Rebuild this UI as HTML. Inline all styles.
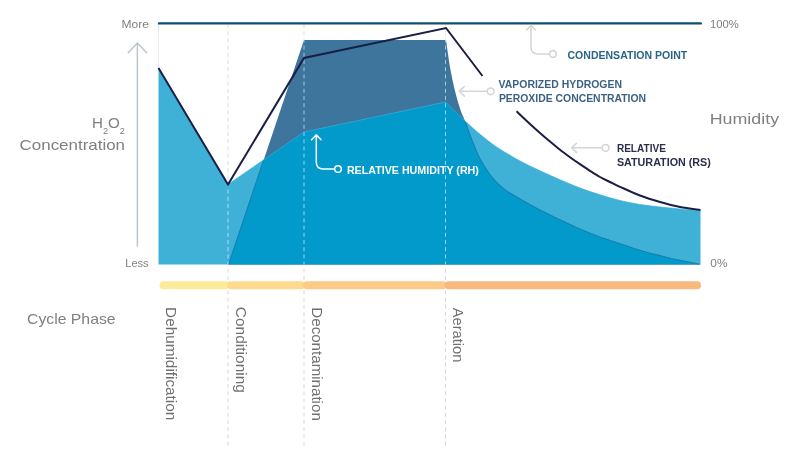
<!DOCTYPE html>
<html lang="en"><head><meta charset="utf-8"><title>VHP Cycle Phase Chart</title>
<style>
html,body{margin:0;padding:0;background:#fff;}
body{width:800px;height:450px;overflow:hidden;}
svg{display:block;font-family:"Liberation Sans", Arial, sans-serif;}
</style></head><body>
<svg width="800" height="450" viewBox="0 0 800 450">
<rect width="800" height="450" fill="#fff"/>
<defs><clipPath id="rhclip"><path d="M158.5 68 L228 184.5 L304 132 L445.5 102 C447.08 103.55 451.75 108.13 455.00 111.30 C458.25 114.47 460.83 117.17 465.00 121.00 C469.17 124.83 475.00 130.13 480.00 134.30 C485.00 138.47 490.00 142.50 495.00 146.00 C500.00 149.50 505.83 152.80 510.00 155.30 C514.17 157.80 515.00 158.42 520.00 161.00 C525.00 163.58 533.33 167.67 540.00 170.80 C546.67 173.93 553.33 176.93 560.00 179.80 C566.67 182.67 573.33 185.50 580.00 188.00 C586.67 190.50 593.33 192.72 600.00 194.80 C606.67 196.88 613.33 198.88 620.00 200.50 C626.67 202.12 633.33 203.42 640.00 204.50 C646.67 205.58 653.33 206.25 660.00 207.00 C666.67 207.75 673.25 208.40 680.00 209.00 C686.75 209.60 697.08 210.33 700.50 210.60 L700.5 264.6 L158.5 264.6 Z"/></clipPath></defs>

<line x1="228" y1="24" x2="228" y2="447" stroke="#d5dae0" stroke-width="1" stroke-dasharray="4 3.2"/>
<line x1="304" y1="24" x2="304" y2="447" stroke="#d5dae0" stroke-width="1" stroke-dasharray="4 3.2"/>
<line x1="445.5" y1="24" x2="445.5" y2="447" stroke="#d5dae0" stroke-width="1" stroke-dasharray="4 3.2"/>
<line x1="158.5" y1="24" x2="158.5" y2="68" stroke="#e9edf1" stroke-width="1"/>
<path d="M158.5 68 L228 184.5 L304 132 L445.5 102 C447.08 103.55 451.75 108.13 455.00 111.30 C458.25 114.47 460.83 117.17 465.00 121.00 C469.17 124.83 475.00 130.13 480.00 134.30 C485.00 138.47 490.00 142.50 495.00 146.00 C500.00 149.50 505.83 152.80 510.00 155.30 C514.17 157.80 515.00 158.42 520.00 161.00 C525.00 163.58 533.33 167.67 540.00 170.80 C546.67 173.93 553.33 176.93 560.00 179.80 C566.67 182.67 573.33 185.50 580.00 188.00 C586.67 190.50 593.33 192.72 600.00 194.80 C606.67 196.88 613.33 198.88 620.00 200.50 C626.67 202.12 633.33 203.42 640.00 204.50 C646.67 205.58 653.33 206.25 660.00 207.00 C666.67 207.75 673.25 208.40 680.00 209.00 C686.75 209.60 697.08 210.33 700.50 210.60 L700.5 264.6 L158.5 264.6 Z" fill="#3fb1d7"/>
<path d="M228.5 264.6 L304 40 L446 40 C446.38 42.67 447.55 51.00 448.30 56.00 C449.05 61.00 449.38 64.17 450.50 70.00 C451.62 75.83 453.33 84.33 455.00 91.00 C456.67 97.67 458.83 105.00 460.50 110.00 C462.17 115.00 463.42 116.83 465.00 121.00 C466.58 125.17 468.17 130.17 470.00 135.00 C471.83 139.83 474.33 146.05 476.00 150.00 C477.67 153.95 478.33 155.58 480.00 158.70 C481.67 161.82 483.78 165.37 486.00 168.70 C488.22 172.03 490.97 175.88 493.30 178.70 C495.63 181.52 497.77 183.57 500.00 185.60 C502.23 187.63 503.37 188.67 506.70 190.90 C510.03 193.13 514.45 195.82 520.00 199.00 C525.55 202.18 533.33 206.55 540.00 210.00 C546.67 213.45 553.33 216.53 560.00 219.70 C566.67 222.87 573.33 226.12 580.00 229.00 C586.67 231.88 592.92 234.43 600.00 237.00 C607.08 239.57 616.67 242.45 622.50 244.40 C628.33 246.35 630.83 247.35 635.00 248.70 C639.17 250.05 643.33 251.35 647.50 252.50 C651.67 253.65 655.83 254.57 660.00 255.60 C664.17 256.63 668.33 257.75 672.50 258.70 C676.67 259.65 680.33 260.33 685.00 261.30 C689.67 262.27 697.92 263.97 700.50 264.50 Z" fill="#3d759d"/>
<g clip-path="url(#rhclip)"><path d="M228.5 264.6 L304 40 L446 40 C446.38 42.67 447.55 51.00 448.30 56.00 C449.05 61.00 449.38 64.17 450.50 70.00 C451.62 75.83 453.33 84.33 455.00 91.00 C456.67 97.67 458.83 105.00 460.50 110.00 C462.17 115.00 463.42 116.83 465.00 121.00 C466.58 125.17 468.17 130.17 470.00 135.00 C471.83 139.83 474.33 146.05 476.00 150.00 C477.67 153.95 478.33 155.58 480.00 158.70 C481.67 161.82 483.78 165.37 486.00 168.70 C488.22 172.03 490.97 175.88 493.30 178.70 C495.63 181.52 497.77 183.57 500.00 185.60 C502.23 187.63 503.37 188.67 506.70 190.90 C510.03 193.13 514.45 195.82 520.00 199.00 C525.55 202.18 533.33 206.55 540.00 210.00 C546.67 213.45 553.33 216.53 560.00 219.70 C566.67 222.87 573.33 226.12 580.00 229.00 C586.67 231.88 592.92 234.43 600.00 237.00 C607.08 239.57 616.67 242.45 622.50 244.40 C628.33 246.35 630.83 247.35 635.00 248.70 C639.17 250.05 643.33 251.35 647.50 252.50 C651.67 253.65 655.83 254.57 660.00 255.60 C664.17 256.63 668.33 257.75 672.50 258.70 C676.67 259.65 680.33 260.33 685.00 261.30 C689.67 262.27 697.92 263.97 700.50 264.50 Z" fill="#019acb"/><path d="M228.5 264.6 L304 40 L446 40 C446.38 42.67 447.55 51.00 448.30 56.00 C449.05 61.00 449.38 64.17 450.50 70.00 C451.62 75.83 453.33 84.33 455.00 91.00 C456.67 97.67 458.83 105.00 460.50 110.00 C462.17 115.00 463.42 116.83 465.00 121.00 C466.58 125.17 468.17 130.17 470.00 135.00 C471.83 139.83 474.33 146.05 476.00 150.00 C477.67 153.95 478.33 155.58 480.00 158.70 C481.67 161.82 483.78 165.37 486.00 168.70 C488.22 172.03 490.97 175.88 493.30 178.70 C495.63 181.52 497.77 183.57 500.00 185.60 C502.23 187.63 503.37 188.67 506.70 190.90 C510.03 193.13 514.45 195.82 520.00 199.00 C525.55 202.18 533.33 206.55 540.00 210.00 C546.67 213.45 553.33 216.53 560.00 219.70 C566.67 222.87 573.33 226.12 580.00 229.00 C586.67 231.88 592.92 234.43 600.00 237.00 C607.08 239.57 616.67 242.45 622.50 244.40 C628.33 246.35 630.83 247.35 635.00 248.70 C639.17 250.05 643.33 251.35 647.50 252.50 C651.67 253.65 655.83 254.57 660.00 255.60 C664.17 256.63 668.33 257.75 672.50 258.70 C676.67 259.65 680.33 260.33 685.00 261.30 C689.67 262.27 697.92 263.97 700.50 264.50" fill="none" stroke="#1482b3" stroke-width="1.1"/></g>
<path d="M228 184.5 L304 132 L445.5 102 C447.08 103.55 451.75 108.13 455.00 111.30 C458.25 114.47 460.83 117.17 465.00 121.00 C469.17 124.83 475.00 130.13 480.00 134.30 C485.00 138.47 490.00 142.50 495.00 146.00 C500.00 149.50 505.83 152.80 510.00 155.30 C514.17 157.80 515.00 158.42 520.00 161.00 C525.00 163.58 533.33 167.67 540.00 170.80 C546.67 173.93 553.33 176.93 560.00 179.80 C566.67 182.67 573.33 185.50 580.00 188.00 C586.67 190.50 593.33 192.72 600.00 194.80 C606.67 196.88 613.33 198.88 620.00 200.50 C626.67 202.12 633.33 203.42 640.00 204.50 C646.67 205.58 653.33 206.25 660.00 207.00 C666.67 207.75 673.25 208.40 680.00 209.00 C686.75 209.60 697.08 210.33 700.50 210.60" fill="none" stroke="#36b0dc" stroke-width="0.8" opacity="0.9"/>
<g>
<line x1="228" y1="24" x2="228" y2="264.6" stroke="#e6f8ff" stroke-opacity="0.62" stroke-width="1" stroke-dasharray="4 3.2"/>
<line x1="304" y1="24" x2="304" y2="264.6" stroke="#e6f8ff" stroke-opacity="0.62" stroke-width="1" stroke-dasharray="4 3.2"/>
<line x1="445.5" y1="24" x2="445.5" y2="264.6" stroke="#e6f8ff" stroke-opacity="0.62" stroke-width="1" stroke-dasharray="4 3.2"/>
</g>
<line x1="159" y1="23.4" x2="700.8" y2="23.4" stroke="#0f4f6e" stroke-width="2.4" stroke-linecap="round"/>
<path d="M158.5 68 L228 184.5 L304 58 L446 28 L482.5 76" fill="none" stroke="#1b1e45" stroke-width="2" stroke-linejoin="miter" stroke-linecap="butt"/>
<path d="M516.5 111.3 C518.75 113.42 526.08 120.38 530.00 124.00 C533.92 127.62 536.67 130.07 540.00 133.00 C543.33 135.93 546.67 138.80 550.00 141.60 C553.33 144.40 556.67 147.20 560.00 149.80 C563.33 152.40 566.67 154.80 570.00 157.20 C573.33 159.60 576.67 161.93 580.00 164.20 C583.33 166.47 586.67 168.67 590.00 170.80 C593.33 172.93 596.67 175.13 600.00 177.00 C603.33 178.87 606.67 180.37 610.00 182.00 C613.33 183.63 615.00 184.55 620.00 186.80 C625.00 189.05 633.33 192.97 640.00 195.50 C646.67 198.03 653.33 200.08 660.00 202.00 C666.67 203.92 673.25 205.67 680.00 207.00 C686.75 208.33 697.08 209.50 700.50 210.00" fill="none" stroke="#1b1e45" stroke-width="2"/>
<path d="M137.4 246 V43.2 M128.2 52.7 L137.4 43 L146.6 52.7" fill="none" stroke="#b9c5d0" stroke-width="1.5" stroke-linecap="round" stroke-linejoin="miter"/>
<g fill="none" stroke="#d5d5d5" stroke-width="1.55" stroke-linecap="round" stroke-linejoin="round">
<path d="M531 25.5 V47 Q531 54 538 54 H549.3 M526.5 30 L531 25.2 L535.5 30"/><circle cx="553" cy="54" r="3.4" fill="#fff"/>
<path d="M459.5 91.3 H487 M464.3 86.5 L459.3 91.3 L464.3 96.1"/><circle cx="490.7" cy="91.3" r="3.4" fill="#fff"/>
<path d="M571.9 147.8 H601.9 M576.6 143.2 L571.7 147.8 L576.6 152.4"/><circle cx="605.6" cy="147.8" r="3.4" fill="#fff"/>
</g>
<g fill="none" stroke="#ffffff" stroke-width="1.5" stroke-linecap="round" stroke-linejoin="round">
<path d="M316.3 135 V162 Q316.3 169 323.3 169 H334.4 M311.6 139.8 L316.3 134.8 L321 139.8"/><circle cx="338" cy="169" r="3.3"/>
</g>
<text x="567.5" y="58.7" font-size="11.4" text-anchor="start" fill="#2a6588" font-weight="bold" textLength="119.7" lengthAdjust="spacingAndGlyphs">CONDENSATION POINT</text>
<text x="498.6" y="88.3" font-size="11.4" text-anchor="start" fill="#3a6285" font-weight="bold" textLength="123.4" lengthAdjust="spacingAndGlyphs">VAPORIZED HYDROGEN</text>
<text x="498.9" y="102.3" font-size="11.4" text-anchor="start" fill="#3a6285" font-weight="bold" textLength="147.2" lengthAdjust="spacingAndGlyphs">PEROXIDE CONCENTRATION</text>
<text x="616.9" y="152" font-size="11.4" text-anchor="start" fill="#2b2d4d" font-weight="bold" textLength="49" lengthAdjust="spacingAndGlyphs">RELATIVE</text>
<text x="616.9" y="166" font-size="11.4" text-anchor="start" fill="#2b2d4d" font-weight="bold" textLength="94" lengthAdjust="spacingAndGlyphs">SATURATION (RS)</text>
<text x="346.9" y="173.9" font-size="11.4" text-anchor="start" fill="#ffffff" font-weight="bold" textLength="132" lengthAdjust="spacingAndGlyphs">RELATIVE HUMIDITY (RH)</text>
<text x="121.5" y="28.4" font-size="10.8" text-anchor="start" fill="#808080" font-weight="normal" textLength="27.4" lengthAdjust="spacingAndGlyphs">More</text>
<text x="125.3" y="266.7" font-size="10.8" text-anchor="start" fill="#808080" font-weight="normal" textLength="23.3" lengthAdjust="spacingAndGlyphs">Less</text>
<text x="710" y="28.3" font-size="10.6" text-anchor="start" fill="#808080" font-weight="normal" textLength="28.8" lengthAdjust="spacingAndGlyphs">100%</text>
<text x="710.3" y="266.7" font-size="10.6" text-anchor="start" fill="#808080" font-weight="normal" textLength="17.2" lengthAdjust="spacingAndGlyphs">0%</text>
<text x="709.7" y="123.9" font-size="15" text-anchor="start" fill="#808080" font-weight="normal" textLength="69.4" lengthAdjust="spacingAndGlyphs">Humidity</text>
<text x="19.6" y="149.6" font-size="14.8" text-anchor="start" fill="#808080" font-weight="normal" textLength="105.4" lengthAdjust="spacingAndGlyphs">Concentration</text>
<text x="92" y="128.2" font-size="14.8" fill="#808080" textLength="33" lengthAdjust="spacingAndGlyphs">H<tspan font-size="9" dy="5.5">2</tspan><tspan dy="-5.5">O</tspan><tspan font-size="9" dy="5.5">2</tspan></text>
<text x="27" y="323.9" font-size="15" text-anchor="start" fill="#808080" font-weight="normal" textLength="88.6" lengthAdjust="spacingAndGlyphs">Cycle Phase</text>
<rect x="159.5" y="281.2" width="69.5" height="8" rx="4" ry="4" fill="#fdeb9c"/>
<rect x="227" y="281.2" width="78" height="8" rx="4" ry="4" fill="#fdda90"/>
<rect x="303" y="281.2" width="143.5" height="8" rx="4" ry="4" fill="#fbca88"/>
<rect x="444.5" y="281.2" width="256.5" height="8" rx="4" ry="4" fill="#f8b97e"/>
<g transform="translate(166.3 307.1) rotate(90)"><text x="0" y="0" font-size="15" text-anchor="start" fill="#707070" font-weight="normal" textLength="113.2" lengthAdjust="spacingAndGlyphs">Dehumidification</text></g>
<g transform="translate(236.2 306.8) rotate(90)"><text x="0" y="0" font-size="15" text-anchor="start" fill="#707070" font-weight="normal" textLength="86.2" lengthAdjust="spacingAndGlyphs">Conditioning</text></g>
<g transform="translate(312 307.3) rotate(90)"><text x="0" y="0" font-size="15" text-anchor="start" fill="#707070" font-weight="normal" textLength="113.5" lengthAdjust="spacingAndGlyphs">Decontamination</text></g>
<g transform="translate(453.3 307.8) rotate(90)"><text x="0" y="0" font-size="15" text-anchor="start" fill="#707070" font-weight="normal" textLength="54.6" lengthAdjust="spacingAndGlyphs">Aeration</text></g>
</svg></body></html>
